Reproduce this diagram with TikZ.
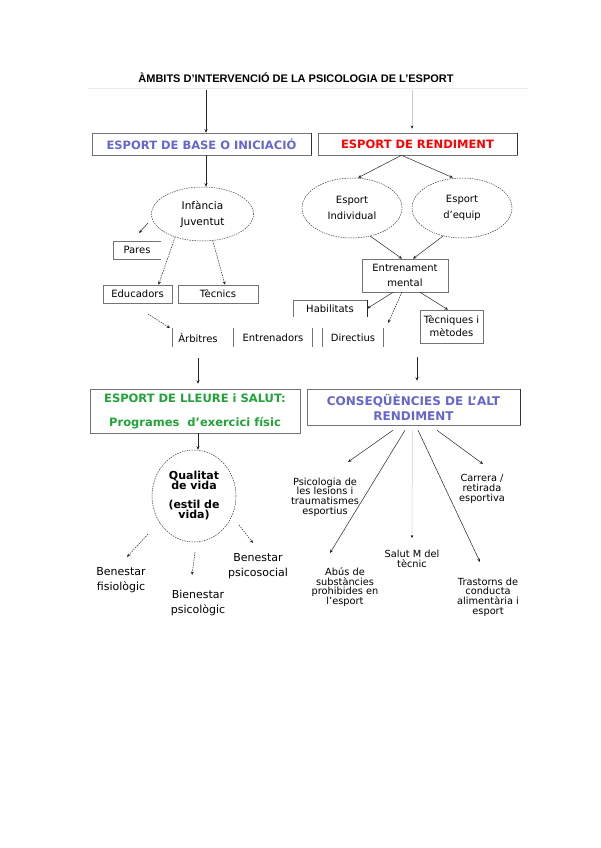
\documentclass[tikz,border=0pt]{standalone}
\usepackage{fontspec}
\setmainfont{DejaVu Sans}
\newfontfamily\titlefont{Liberation Sans}
\usetikzlibrary{arrows.meta,shapes.geometric,calc}
\definecolor{myblue}{HTML}{6666CC}
\definecolor{mygreen}{HTML}{22A33A}
\begin{document}
\begin{tikzpicture}[x=1pt,y=-1pt,
  arr/.style={-{Stealth[length=3.5pt,width=3pt]}, line width=0.5pt, black!85},
  darr/.style={arr, dash pattern=on 1.5pt off 1pt},
  boxn/.style={draw=black!55, line width=0.5pt, rectangle, inner sep=0pt, align=center},
  ellip/.style={ellipse, draw=black!75, dash pattern=on 1.5pt off 1pt, line width=0.5pt, inner sep=0pt, align=center},
  head/.style={font=\bfseries\fontsize{11.5}{14}\selectfont},
  txt/.style={font=\fontsize{10}{15}\selectfont, align=center, inner sep=0pt},
  lowa/.style={font=\fontsize{11}{14.5}\selectfont, align=center, inner sep=0pt},
  lowb/.style={font=\fontsize{9.8}{9.7}\selectfont, align=center, inner sep=0pt},
  sep/.style={black!55, line width=0.5pt}]
\useasboundingbox[fill=white] (0,0) rectangle (600,848);

% title
\node[font=\titlefont\bfseries\fontsize{11}{13}\selectfont, inner sep=0pt] (title) at (296,78) {ÀMBITS D’INTERVENCIÓ DE LA PSICOLOGIA DE L’ESPORT};
\draw[black!8, line width=0.6pt] (88,88) -- (528,88);
\coordinate (t1) at (206,90);
\coordinate (t2) at (412,90);

% main boxes
\node[boxn, head, text=myblue, minimum width=219pt, minimum height=22pt] (base) at (201.5,144) {ESPORT DE BASE O INICIACIÓ};
\node[boxn, head, text=red, minimum width=199pt, minimum height=22pt] (rend) at (417.5,144) {ESPORT DE RENDIMENT};
\draw[black!80, line width=0.9pt] (base.north east) -- (base.south east);
\draw[black!80, line width=0.9pt] (rend.north east) -- (rend.south east);
\draw[arr] (t1) -- (t1 |- base.north);
\draw[line width=0.5pt, black!20, -{Stealth[length=3pt,width=2.5pt,black]}] (t2) -- ([yshift=4pt]t2 |- rend.north);

% left upper
\node[ellip, txt, font=\fontsize{10.5}{16}\selectfont, minimum width=102pt, minimum height=54pt] (infa) at (202.5,214) {Infància\\Juventut};
\draw[arr] (base.south -| t1) -- (t1 |- infa.north);

\node[txt, minimum width=48pt, minimum height=18pt] (pares) at (137,250) {Pares};
\draw[sep] (pares.north east) -- (pares.north west) -- (pares.south west) -- (pares.south east);
\coordinate (pa1) at (148,223);
\coordinate (pa2) at (139,233);
\draw[arr] (pa1) -- (pa2);

\node[boxn, txt, minimum width=69pt, minimum height=18pt] (educ) at (137.5,294) {Educadors};
\node[boxn, txt, minimum width=80pt, minimum height=18pt] (tecn) at (218,294) {Tècnics};
\draw[darr] (infa.220) -- ([xshift=21pt]educ.north);
\draw[darr] (infa.291) -- ([xshift=7pt]tecn.north);

\node[txt] (arb) at (198,338) {Àrbitres};
\node[txt] (ent) at (273,338) {Entrenadors};
\node[txt] (dir) at (353,338) {Directius};
\foreach \x in {172,233,312,322,383} \draw[sep] (\x,328) -- (\x,347);
\coordinate (ea1) at (148,314);
\coordinate (ea2) at (170,328);
\draw[darr] (ea1) -- (ea2);

% right upper
\node[ellip, txt, font=\fontsize{10}{16}\selectfont, minimum width=100pt, minimum height=60pt] (ind) at (352,208) {Esport\\Individual};
\node[ellip, txt, font=\fontsize{10}{16}\selectfont, minimum width=100pt, minimum height=60pt] (equ) at (462,208) {Esport\\d’equip};
\draw[arr] ([xshift=-16pt]rend.south) -- ([xshift=6pt]ind.north);
\draw[arr] ([xshift=-16pt]rend.south) -- ([xshift=-9pt]equ.north);

\node[boxn, txt, minimum width=86pt, minimum height=33pt] (entr) at (405,275.5) {Entrenament\\mental};
\draw[arr] (ind.-57) -- ([xshift=-3pt]entr.north);
\draw[arr] (equ.236) -- ([xshift=8pt]entr.north);

\node[txt, minimum width=74pt, minimum height=17pt] (hab) at (330,308.5) {Habilitats};
\draw[sep] (hab.south west) -- (hab.north west) -- (hab.north east);
\draw[black!85, line width=1.1pt] (hab.north east) -- (hab.south east);
\draw[arr] ([xshift=-12pt]entr.south) -- (hab.east);
\coordinate (dm) at (388,323);
\draw[darr] ([xshift=-3pt]entr.south) -- (dm);
\node[boxn, txt, font=\fontsize{10}{13}\selectfont, minimum width=63pt, minimum height=33pt] (tec) at (451.5,326.5) {Tècniques i\\mètodes};
\draw[arr] ([xshift=15pt]entr.south) -- ([xshift=-3.5pt]tec.north);

% lower boxes
\coordinate (l1) at (198,358);
\coordinate (r1) at (417,357);
\node[boxn, text=mygreen, font=\bfseries\fontsize{11.5}{24}\selectfont, minimum width=210pt, minimum height=44pt] (lleu) at (195,411) {ESPORT DE LLEURE i SALUT:\\Programes\ \ d’exercici físic};
\node[boxn, text=myblue, font=\bfseries\fontsize{12}{15}\selectfont, minimum width=213pt, minimum height=36pt] (cons) at (413.5,407) {CONSEQÜÈNCIES DE L’ALT\\RENDIMENT};
\draw[black!80, line width=0.9pt] (cons.north east) -- (cons.south east);
\draw[arr] (l1) -- ([yshift=5pt]l1 |- lleu.north);
\draw[arr] (r1) -- ([yshift=8pt]r1 |- cons.north);

% left lower
\node[ellip, font=\bfseries\fontsize{11}{10}\selectfont, minimum width=84pt, minimum height=92pt] (qual) at (194,496) {Qualitat\\de vida\\[9pt](estil de\\vida)};
\draw[arr] (lleu.south -| l1) -- (l1 |- qual.north);

\node[lowa] (fis) at (121,580) {Benestar\\fisiològic};
\node[lowa] (psic) at (198,603) {Bienestar\\psicològic};
\node[lowa] (soc) at (258,566) {Benestar\\psicosocial};
\coordinate (q1s) at (148,534); \coordinate (q1e) at (127,557);
\coordinate (q2s) at (195,552); \coordinate (q2e) at (192,575);
\coordinate (q3s) at (239,525); \coordinate (q3e) at (253,543);
\draw[darr] (q1s) -- (q1e);
\draw[darr] (q2s) -- (q2e);
\draw[darr] (q3s) -- (q3e);

% right lower
\node[lowb] (psl) at (325,497) {Psicologia de\\les lesions i\\traumatismes\\esportius};
\node[lowb] (abus) at (345,587) {Abús de\\substàncies\\prohibides en\\l’esport};
\node[lowb] (salut) at (412,559) {Salut M del\\tècnic};
\node[lowb] (tras) at (488,597) {Trastorns de\\conducta\\alimentària i\\esport};
\node[lowb] (carr) at (482,489) {Carrera /\\retirada\\esportiva};
\coordinate (ce1) at (348,462);
\coordinate (ce2) at (330,553);
\coordinate (ce3) at (412,538);
\coordinate (ce4) at (480,562);
\coordinate (ce5) at (483,464);
\draw[arr] ([xshift=-20.5pt,yshift=-5pt]cons.south) -- (ce1);
\draw[arr] ([xshift=-8.5pt,yshift=-5pt]cons.south) -- (ce2);
\draw[line width=0.5pt, black!20, -{Stealth[length=3pt,width=2.5pt,black]}] ([xshift=-1pt,yshift=-5pt]cons.south) -- (ce3);
\draw[arr] ([xshift=4.5pt,yshift=-5pt]cons.south) -- (ce4);
\draw[arr] ([xshift=23.5pt,yshift=-5pt]cons.south) -- (ce5);
\end{tikzpicture}
\end{document}
